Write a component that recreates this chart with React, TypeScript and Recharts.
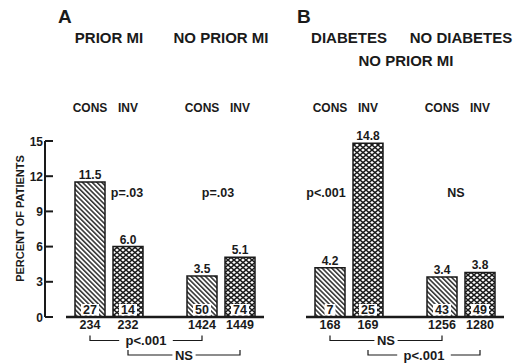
import { BarChart, Bar, XAxis, YAxis, LabelList, ReferenceLine, ReferenceDot } from 'recharts';

const groupsA = ['PRIOR MI', 'NO PRIOR MI'];
const groupsB = ['DIABETES', 'NO DIABETES'];
const arms = ['CONS', 'INV'];

// percent of patients
const consA = [11.5, 3.5];
const invA = [6.0, 5.1];
const consB = [4.2, 3.4];
const invB = [14.8, 3.8];

// number of events (inside bars) and number of patients (under bars)
const eventsConsA = [27, 50];
const eventsInvA = [14, 74];
const nConsA = [234, 1424];
const nInvA = [232, 1449];
const eventsConsB = [7, 43];
const eventsInvB = [25, 49];
const nConsB = [168, 1256];
const nInvB = [169, 1280];

// p values: within each group, and across groups (cons vs cons, inv vs inv)
const pWithinA = ['p=.03', 'p=.03'];
const pWithinB = ['p<.001', 'NS'];
const pAcrossA = ['p<.001', 'NS'];
const pAcrossB = ['NS', 'p<.001'];

const yTicks = [0, 3, 6, 9, 12, 15];

const W = 527;
const H = 364;
const FONT = '"Liberation Sans", Arial, sans-serif';
const INK = '#1a1a1a';
const BAR = 30;
const GAP = 8;
const HALF = (BAR + GAP) / 2;
const P_LEVEL = 10.6; // height (in %) of the within-group p labels

const buildRows = (groups: string[], cons: number[], inv: number[], eC: number[], eI: number[], nC: number[], nI: number[]) =>
  groups.map((g, i) => ({ group: g, cons: cons[i], inv: inv[i], consEv: eC[i], invEv: eI[i], consN: nC[i], invN: nI[i] }));

const rowsA = buildRows(groupsA, consA, invA, eventsConsA, eventsInvA, nConsA, nInvA);
const rowsB = buildRows(groupsB, consB, invB, eventsConsB, eventsInvB, nConsB, nInvB);

const Patterns = ({ id }: { id: string }) => (
  <defs>
    <pattern id={`${id}-diag`} width="3.4" height="3.4" patternUnits="userSpaceOnUse" patternTransform="rotate(-45)">
      <rect width="3.4" height="3.4" fill="#fff" />
      <line x1="0.8" y1="0" x2="0.8" y2="3.4" stroke={INK} strokeWidth="1.4" />
    </pattern>
    <pattern id={`${id}-mesh`} width="6" height="5" patternUnits="userSpaceOnUse">
      <rect width="6" height="5" fill="#fff" />
      <path d="M0,0 L6,5 M6,0 L0,5" stroke={INK} strokeWidth="1.4" />
    </pattern>
  </defs>
);

const GroupHeader = ({ x, y, payload }: any) => (
  <g fontFamily={FONT} fontWeight="bold" fill={INK}>
    <text x={x} y={y - 98} textAnchor="middle" fontSize={15}>{payload.value}</text>
    <text x={x - HALF} y={y - 29} textAnchor="middle" fontSize={12}>{arms[0]}</text>
    <text x={x + HALF} y={y - 29} textAnchor="middle" fontSize={12}>{arms[1]}</text>
  </g>
);

const YTick = ({ x, y, payload }: any) => (
  <g>
    <line x1={x} x2={x + 8} y1={y} y2={y} stroke={INK} strokeWidth={2} />
    <text x={x - 2} y={y + 4.5} textAnchor="end" fontFamily={FONT} fontWeight="bold" fontSize={12} fill={INK}>
      {payload.value}
    </text>
  </g>
);

const ValueLabel = ({ x, y, width, value }: any) => (
  <text x={x + width / 2} y={y - 3} textAnchor="middle" fontFamily={FONT} fontWeight="bold" fontSize={12} fill={INK}>
    {Number(value).toFixed(1)}
  </text>
);

const EventLabel = ({ x, y, width, height, value }: any) => {
  const bottom = y + height;
  const w = String(value).length * 7 + 4;
  return (
    <g>
      <rect x={x + width / 2 - w / 2} y={bottom - 13} width={w} height={11.5} fill="#fff" />
      <text x={x + width / 2} y={bottom - 3} textAnchor="middle" fontFamily={FONT} fontWeight="bold" fontSize={12.5} fill={INK}>
        {value}
      </text>
    </g>
  );
};

const CountLabel = ({ x, y, width, height, value }: any) => (
  <text x={x + width / 2} y={y + height + 12} textAnchor="middle" fontFamily={FONT} fontWeight="bold" fontSize={12.5} fill={INK}>
    {value}
  </text>
);

const baselineShape = (p: any) => (
  <line x1={p.x1 - 43} x2={p.x2 + 43} y1={p.y1} y2={p.y1} stroke={INK} strokeWidth={2.5} />
);

const bracketShape = (shift: number, top: number, text: string) => (p: any) => {
  const a = p.x1 + shift;
  const b = p.x2 + shift;
  const yTop = p.y1 + top;
  const yLine = yTop + 5;
  const mid = (a + b) / 2;
  const half = text.length * 3.8 + 4;
  return (
    <g>
      <path d={`M${a},${yTop} V${yLine} H${mid - half} M${mid + half},${yLine} H${b} V${yTop}`} fill="none" stroke={INK} strokeWidth={1.2} />
      <text x={mid} y={yLine + 4.5} textAnchor="middle" fontFamily={FONT} fontWeight="bold" fontSize={13} fill={INK}>
        {text}
      </text>
    </g>
  );
};

const pShape = (dx: number, text: string) => (p: any) => (
  <text x={p.cx + dx} y={p.cy + 4.5} textAnchor="middle" fontFamily={FONT} fontWeight="bold" fontSize={12.5} fill={INK}>
    {text}
  </text>
);

type PanelProps = {
  id: string;
  rows: any[];
  groups: string[];
  pWithin: string[];
  pShift: number[];
  pAcross: string[];
  margin: { top: number; right: number; bottom: number; left: number };
  showY: boolean;
  padLeft: number;
};

const Panel = ({ id, rows, groups, pWithin, pShift, pAcross, margin, showY, padLeft }: PanelProps) => (
  <div style={{ position: 'absolute', left: 0, top: 0 }}>
    <BarChart width={W} height={H} data={rows} margin={margin} barGap={GAP}>
      <Patterns id={id} />
      <XAxis
        dataKey="group"
        orientation="top"
        height={100}
        interval={0}
        padding={{ left: padLeft, right: 0 }}
        axisLine={false}
        tickLine={false}
        tickSize={0}
        tickMargin={0}
        tick={<GroupHeader />}
      />
      <YAxis
        hide={!showY}
        width={40}
        domain={[0, 15]}
        ticks={yTicks}
        interval={0}
        axisLine={{ stroke: INK, strokeWidth: 2 }}
        tickLine={false}
        tickSize={0}
        tickMargin={0}
        tick={<YTick />}
      />
      <Bar dataKey="cons" barSize={BAR} fill={`url(#${id}-diag)`} stroke={INK} strokeWidth={1.5} isAnimationActive={false}>
        <LabelList dataKey="cons" content={<ValueLabel />} />
        <LabelList dataKey="consEv" content={<EventLabel />} />
        <LabelList dataKey="consN" content={<CountLabel />} />
      </Bar>
      <Bar dataKey="inv" barSize={BAR} fill={`url(#${id}-mesh)`} stroke={INK} strokeWidth={1.5} isAnimationActive={false}>
        <LabelList dataKey="inv" content={<ValueLabel />} />
        <LabelList dataKey="invEv" content={<EventLabel />} />
        <LabelList dataKey="invN" content={<CountLabel />} />
      </Bar>
      <ReferenceLine segment={[{ x: groups[0], y: 0 }, { x: groups[1], y: 0 }]} shape={baselineShape} />
      <ReferenceLine segment={[{ x: groups[0], y: 0 }, { x: groups[1], y: 0 }]} shape={bracketShape(-HALF, 18.5, pAcross[0])} />
      <ReferenceLine segment={[{ x: groups[0], y: 0 }, { x: groups[1], y: 0 }]} shape={bracketShape(HALF, 33, pAcross[1])} />
      {groups.map((g, i) => (
        <ReferenceDot key={g} x={g} y={P_LEVEL} r={0} shape={pShape(pShift[i], pWithin[i])} />
      ))}
    </BarChart>
  </div>
);

export default function App() {
  return (
    <div style={{ position: 'absolute', left: 0, top: 0, width: W, height: H, background: '#fff', overflow: 'hidden' }}>
      <Panel
        id="a"
        rows={rowsA}
        groups={groupsA}
        pWithin={pWithinA}
        pShift={[18, -3]}
        pAcross={pAcrossA}
        margin={{ top: 41, right: 250, bottom: 47, left: 5 }}
        showY
        padLeft={8}
      />
      <Panel
        id="b"
        rows={rowsB}
        groups={groupsB}
        pWithin={pWithinB}
        pShift={[-23, -5]}
        pAcross={pAcrossB}
        margin={{ top: 41, right: 10, bottom: 47, left: 293 }}
        showY={false}
        padLeft={0}
      />
      <svg width={W} height={H} style={{ position: 'absolute', left: 0, top: 0, pointerEvents: 'none' }}>
        <g fontFamily={FONT} fontWeight="bold" fill={INK}>
          <text x={58} y={23} fontSize={19}>A</text>
          <text x={297} y={23} fontSize={19}>B</text>
          <text x={406} y={66} fontSize={15} textAnchor="middle">NO PRIOR MI</text>
          <text x={20} y={218.5} dy={4} fontSize={11} textAnchor="middle" transform="rotate(-90 20 218.5)">
            PERCENT OF PATIENTS
          </text>
        </g>
      </svg>
    </div>
  );
}
